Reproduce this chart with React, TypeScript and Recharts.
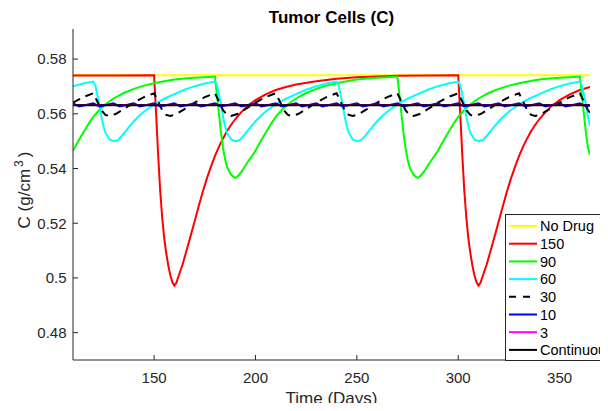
import React from 'react';
import { LineChart, Line, XAxis, YAxis } from 'recharts';

const xTicks = [150, 200, 250, 300, 350];
const yTicks = [0.48, 0.5, 0.52, 0.54, 0.56, 0.58];

const noDrugDays = [110, 365];
const noDrugC = [0.5741, 0.5741];

const d150Days = [110, 130, 150, 151, 152, 153, 154, 155, 156, 157, 158, 159, 160, 161, 162, 164, 166, 168, 170, 172, 174, 176, 178, 180, 182, 184, 186, 188, 190, 193, 196, 200, 205, 210, 215, 220, 230, 240, 250, 270, 300,
  301, 302, 303, 304, 305, 306, 307, 308, 309, 310, 311, 312, 314, 316, 318, 320, 322, 324, 326, 328, 330, 332, 334, 336, 338, 340, 343, 346, 350, 355, 360, 365];
const d150C = [0.5740, 0.5740, 0.5741, 0.5600, 0.5450, 0.5320, 0.5220, 0.5145, 0.5090, 0.5045, 0.5010, 0.4985, 0.4972, 0.4982, 0.5005, 0.5048, 0.5100, 0.5153, 0.5207, 0.5262, 0.5315, 0.5363, 0.5406, 0.5445, 0.5480, 0.5510, 0.5537, 0.5560, 0.5580, 0.5606, 0.5628, 0.5650, 0.5671, 0.5687, 0.5698, 0.5707, 0.5719, 0.5728, 0.5734, 0.5739, 0.5741,
  0.5600, 0.5450, 0.5320, 0.5220, 0.5145, 0.5090, 0.5045, 0.5010, 0.4985, 0.4972, 0.4982, 0.5005, 0.5048, 0.5100, 0.5153, 0.5207, 0.5262, 0.5315, 0.5363, 0.5406, 0.5445, 0.5480, 0.5510, 0.5537, 0.5560, 0.5580, 0.5606, 0.5628, 0.5650, 0.5671, 0.5687, 0.5698];

const d90Days = [110, 112, 114, 116, 118, 120, 123, 126, 130, 135, 140, 145, 150, 155, 160, 165, 170, 175, 180,
  181, 182, 183, 184, 185, 186, 187, 188, 189, 190, 191, 192, 193, 194, 196, 198, 200, 202, 204, 206, 208, 210, 213, 216, 220, 225, 230, 235, 240, 245, 250, 255, 260, 265, 270,
  271, 272, 273, 274, 275, 276, 277, 278, 279, 280, 281, 282, 283, 284, 286, 288, 290, 292, 294, 296, 298, 300, 303, 306, 310, 315, 320, 325, 330, 335, 340, 345, 350, 355, 360,
  361, 362, 363, 364, 365];
const d90C = [0.5465, 0.5492, 0.5518, 0.5543, 0.5567, 0.5589, 0.5614, 0.5635, 0.5656, 0.5676, 0.5691, 0.5703, 0.5712, 0.5719, 0.5725, 0.5729, 0.5732, 0.5734, 0.5736,
  0.5670, 0.5600, 0.5530, 0.5475, 0.5435, 0.5405, 0.5390, 0.5378, 0.5370, 0.5366, 0.5370, 0.5378, 0.5388, 0.5398, 0.5422, 0.5443, 0.5465, 0.5492, 0.5518, 0.5543, 0.5567, 0.5589, 0.5614, 0.5635, 0.5656, 0.5676, 0.5691, 0.5703, 0.5712, 0.5719, 0.5725, 0.5729, 0.5732, 0.5734, 0.5736,
  0.5670, 0.5600, 0.5530, 0.5475, 0.5435, 0.5405, 0.5390, 0.5378, 0.5370, 0.5366, 0.5370, 0.5378, 0.5388, 0.5398, 0.5422, 0.5443, 0.5465, 0.5492, 0.5518, 0.5543, 0.5567, 0.5589, 0.5614, 0.5635, 0.5656, 0.5676, 0.5691, 0.5703, 0.5712, 0.5719, 0.5725, 0.5729, 0.5732, 0.5734, 0.5736,
  0.5670, 0.5600, 0.5530, 0.5475, 0.5450];

const d60Days = [110, 115, 120,
  121, 122, 123, 124, 125, 126, 128, 130, 132, 134, 136, 138, 140, 143, 146, 150, 155, 160, 165, 170, 175, 180,
  181, 182, 183, 184, 185, 186, 188, 190, 192, 194, 196, 198, 200, 203, 206, 210, 215, 220, 225, 230, 235, 240,
  241, 242, 243, 244, 245, 246, 248, 250, 252, 254, 256, 258, 260, 263, 266, 270, 275, 280, 285, 290, 295, 300,
  301, 302, 303, 304, 305, 306, 308, 310, 312, 314, 316, 318, 320, 323, 326, 330, 335, 340, 345, 350, 355, 360,
  361, 362, 363, 364, 365];
const d60C = [0.5701, 0.5711, 0.5718,
  0.5705, 0.5670, 0.5635, 0.5590, 0.5555, 0.5530, 0.5506, 0.5500, 0.5503, 0.5518, 0.5537, 0.5555, 0.5573, 0.5595, 0.5614, 0.5634, 0.5655, 0.5672, 0.5688, 0.5701, 0.5711, 0.5718,
  0.5705, 0.5670, 0.5635, 0.5590, 0.5555, 0.5530, 0.5506, 0.5500, 0.5503, 0.5518, 0.5537, 0.5555, 0.5573, 0.5595, 0.5614, 0.5634, 0.5655, 0.5672, 0.5688, 0.5701, 0.5711, 0.5718,
  0.5705, 0.5670, 0.5635, 0.5590, 0.5555, 0.5530, 0.5506, 0.5500, 0.5503, 0.5518, 0.5537, 0.5555, 0.5573, 0.5595, 0.5614, 0.5634, 0.5655, 0.5672, 0.5688, 0.5701, 0.5711, 0.5718,
  0.5705, 0.5670, 0.5635, 0.5590, 0.5555, 0.5530, 0.5506, 0.5500, 0.5503, 0.5518, 0.5537, 0.5555, 0.5573, 0.5595, 0.5614, 0.5634, 0.5655, 0.5672, 0.5688, 0.5701, 0.5711, 0.5718,
  0.5705, 0.5670, 0.5635, 0.5590, 0.5555];

const d30Days = [110, 115, 120,
  122, 124, 126, 128, 131, 135, 140, 145, 150,
  152, 154, 156, 158, 161, 165, 170, 175, 180,
  182, 184, 186, 188, 191, 195, 200, 205, 210,
  212, 214, 216, 218, 221, 225, 230, 235, 240,
  242, 244, 246, 248, 251, 255, 260, 265, 270,
  272, 274, 276, 278, 281, 285, 290, 295, 300,
  302, 304, 306, 308, 311, 315, 320, 325, 330,
  332, 334, 336, 338, 341, 345, 350, 355, 360,
  362, 364, 365];
const d30C = [0.5641, 0.5661, 0.5675,
  0.5645, 0.5613, 0.5596, 0.5592, 0.5599, 0.5617, 0.5641, 0.5661, 0.5675,
  0.5645, 0.5613, 0.5596, 0.5592, 0.5599, 0.5617, 0.5641, 0.5661, 0.5675,
  0.5645, 0.5613, 0.5596, 0.5592, 0.5599, 0.5617, 0.5641, 0.5661, 0.5675,
  0.5645, 0.5613, 0.5596, 0.5592, 0.5599, 0.5617, 0.5641, 0.5661, 0.5675,
  0.5645, 0.5613, 0.5596, 0.5592, 0.5599, 0.5617, 0.5641, 0.5661, 0.5675,
  0.5645, 0.5613, 0.5596, 0.5592, 0.5599, 0.5617, 0.5641, 0.5661, 0.5675,
  0.5645, 0.5613, 0.5596, 0.5592, 0.5599, 0.5617, 0.5641, 0.5661, 0.5675,
  0.5645, 0.5613, 0.5596, 0.5592, 0.5599, 0.5617, 0.5641, 0.5661, 0.5675,
  0.5645, 0.5613, 0.5604];

const d10Days = [110, 113, 120, 123, 130, 133, 140, 143, 150, 153, 160, 163, 170, 173, 180, 183, 190, 193, 200, 203, 210, 213, 220, 223, 230, 233,
  240, 243, 250, 253, 260, 263, 270, 273, 280, 283, 290, 293, 300, 303, 310, 313, 320, 323, 330, 333, 340, 343, 350, 353, 360, 363, 365];
const d10C = [0.5638, 0.5627, 0.5638, 0.5627, 0.5638, 0.5627, 0.5638, 0.5627, 0.5638, 0.5627, 0.5638, 0.5627, 0.5638, 0.5627, 0.5638, 0.5627, 0.5638, 0.5627, 0.5638, 0.5627, 0.5638, 0.5627, 0.5638, 0.5627, 0.5638, 0.5627,
  0.5638, 0.5627, 0.5638, 0.5627, 0.5638, 0.5627, 0.5638, 0.5627, 0.5638, 0.5627, 0.5638, 0.5627, 0.5638, 0.5627, 0.5638, 0.5627, 0.5638, 0.5627, 0.5638, 0.5627, 0.5638, 0.5627, 0.5638, 0.5627, 0.5638, 0.5627, 0.5630];

const d3Days = [110, 365];
const d3C = [0.5632, 0.5632];

const contDays = [110, 365];
const contC = [0.5631, 0.5631];

const zip = (d: number[], c: number[]) => d.map((t, i) => ({ t, c: c[i] }));

const series = [
  { name: 'No Drug', color: '#ffff00', dash: undefined as string | undefined, data: zip(noDrugDays, noDrugC) },
  { name: '150', color: '#ff0000', dash: undefined, data: zip(d150Days, d150C) },
  { name: '90', color: '#00ff00', dash: undefined, data: zip(d90Days, d90C) },
  { name: '60', color: '#00ffff', dash: undefined, data: zip(d60Days, d60C) },
  { name: '30', color: '#000000', dash: '8 6', data: zip(d30Days, d30C) },
  { name: '10', color: '#0000ff', dash: undefined, data: zip(d10Days, d10C) },
  { name: '3', color: '#ff00ff', dash: undefined, data: zip(d3Days, d3C) },
  { name: 'Continuous', color: '#000000', dash: undefined, data: zip(contDays, contC) },
];

const FONT = '"Liberation Sans", Arial, Helvetica, sans-serif';
const AX = '#262626';

const XTick = (props: any) => {
  const { x, y, payload } = props;
  return (
    <g>
      <line x1={x} y1={y} x2={x} y2={y - 5} stroke={AX} strokeWidth={1} />
      <text x={x} y={y + 22.5} textAnchor="middle" fontSize={15} fill={AX} fontFamily={FONT}>{payload.value}</text>
    </g>
  );
};

const YTick = (props: any) => {
  const { x, y, payload } = props;
  return (
    <g>
      <line x1={x} y1={y} x2={x + 5} y2={y} stroke={AX} strokeWidth={1} />
      <text x={x - 6.5} y={y + 5.4} textAnchor="end" fontSize={15} fill={AX} fontFamily={FONT}>{String(payload.value)}</text>
    </g>
  );
};

export default function App() {
  return (
    <div style={{ position: 'relative', width: 608, height: 411, margin: -8, overflow: 'hidden', background: '#fff' }}>
      <LineChart width={608} height={411} margin={{ top: 29, right: 18, bottom: 21, left: 13 }}>
        <XAxis
          dataKey="t"
          type="number"
          domain={[110, 365]}
          ticks={xTicks}
          allowDataOverflow
          height={30}
          tickSize={0}
          tickMargin={0}
          tickLine={false}
          axisLine={{ stroke: AX, strokeWidth: 1 }}
          tick={<XTick />}
        />
        <YAxis
          type="number"
          domain={[0.47, 0.591]}
          ticks={yTicks}
          allowDataOverflow
          width={60}
          tickSize={0}
          tickMargin={0}
          tickLine={false}
          axisLine={{ stroke: AX, strokeWidth: 1 }}
          tick={<YTick />}
        />
        {series.map((s) => (
          <Line
            key={s.name}
            data={s.data}
            dataKey="c"
            name={s.name}
            type="linear"
            stroke={s.color}
            strokeWidth={2}
            strokeDasharray={s.dash}
            dot={false}
            activeDot={false}
            isAnimationActive={false}
          />
        ))}
      </LineChart>
      <svg width={608} height={411} style={{ position: 'absolute', left: 0, top: 0, pointerEvents: 'none' }}>
        <text x={331.5} y={22.5} textAnchor="middle" fontSize={17} fontWeight="bold" fill="#000" fontFamily={FONT}>Tumor Cells (C)</text>
        <text x={331.5} y={403.5} textAnchor="middle" fontSize={17} fill={AX} fontFamily={FONT}>Time (Days)</text>
        <text transform="translate(29.5,190) rotate(-90)" textAnchor="middle" fontSize={17} fill={AX} fontFamily={FONT}>
          <tspan>C (g/cm</tspan>
          <tspan dx={2} dy={-7} fontSize={12}>3</tspan>
          <tspan dx={3} dy={7}>)</tspan>
        </text>
        <rect x={505.5} y={214.5} width={200} height={146} fill="#fff" stroke={AX} strokeWidth={1} />
        {series.map((s, i) => {
          const cy = 226 + i * 17.7;
          return (
            <g key={s.name}>
              <line x1={509} y1={cy} x2={537} y2={cy} stroke={s.color} strokeWidth={2} strokeDasharray={s.dash ? '7 7' : undefined} />
              <text x={540} y={cy + 5.3} fontSize={14.5} fill="#000" fontFamily={FONT}>{s.name}</text>
            </g>
          );
        })}
      </svg>
    </div>
  );
}
